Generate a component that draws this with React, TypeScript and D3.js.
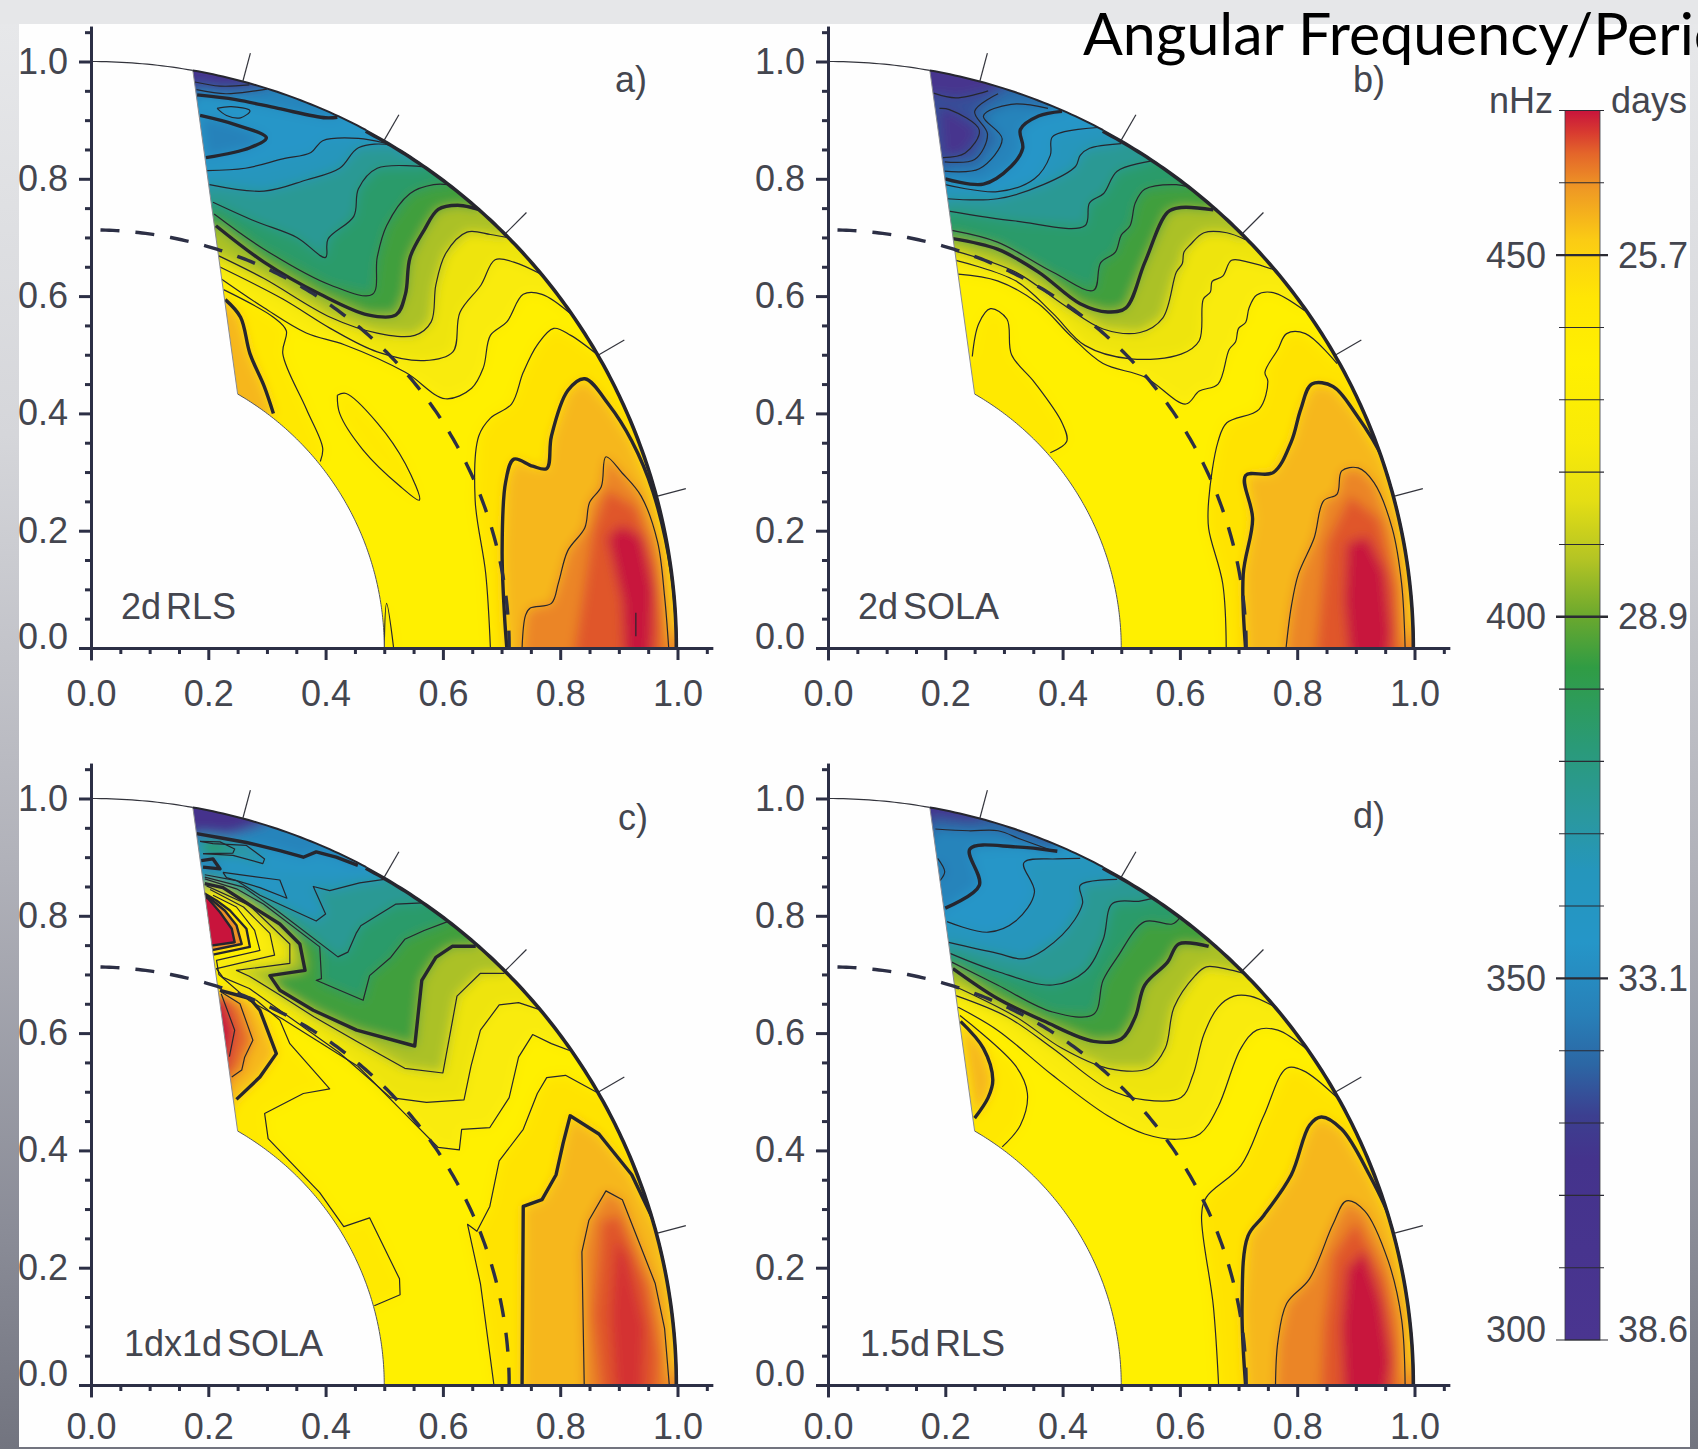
import React, { useEffect, useRef } from 'react'
import * as d3 from 'd3'

type Pt = [number, number]
// nHz of the line (null = colour only), nHz of the colour (null = line only), how the region closes, points
type Contour = [number | null, number | null, string, Pt[]]

const MAJOR_TICKS = [0, 0.2, 0.4, 0.6, 0.8, 1.0]
const MINOR_TICKS = d3.range(0, 22).map(i => i * 0.05).filter(v => Math.round(v * 100) % 20 !== 0)
const LATITUDE_MARKS = [15, 30, 45, 60, 75]
const TACHOCLINE_R = 0.713
const BAR_TICKS = d3.range(300, 471, 10)
const BAR_LABELS: [number, string][] = [[450, '25.7'], [400, '28.9'], [350, '33.1'], [300, '38.6']]

const RAMP_NHZ = [300, 325, 331, 338, 345, 355, 365, 372, 382, 393, 400, 408, 416, 424, 435, 444, 452, 459, 464, 467, 471]
const RAMP_COLOR = ['#4a3590', '#44338c', '#3c3f90', '#2c66a4', '#2880b8', '#2596c8', '#2596bc', '#2a98a0', '#2a9a78', '#309c44', '#6aa82e', '#b4c424', '#e4de14', '#f8ea08', '#fff000', '#ffe604', '#fbcc14', '#ef9a24', '#e4662a', '#d83a30', '#c8143c']

const panelA: Contour[] = [
  [440, 445, 'eq', [[.681, 0], [.673, .127], [.655, .252], [.661, .361], [.681, .392], [.717, .416], [.737, .47], [.761, .517], [.789, .545], [.818, .533], [.866, .498]]],
  [440, 442, 'in', [[.226, .611], [.311, .564], [.333, .541], [.327, .502], [.367, .408], [.395, .341], [.391, .318]]],
  [440, 442, 'self', [[.5, 0], [.504, .076], [.516, 0]]],
  [440, 441, 'self', [[.42, .431], [.435, .434], [.488, .384], [.536, .314], [.56, .252], [.528, .275], [.464, .3375], [.424, .4], [.42, .431]]],
  [450, 455, 'eq', [[.709, 0], [.705, .056], [.701, .166], [.707, .283], [.721, .322], [.753, .31], [.777, .306], [.785, .361], [.813, .439], [.842, .459], [.882, .416], [.922, .353], [.958, .267], [.99, .127], [1, 0]]],
  [450, 455, 'in', [[.229, .594], [.255, .564], [.271, .502], [.295, .447], [.311, .4]]],
  [460, 461, 'eq', [[.735, 0], [.741, .056], [.749, .068], [.785, .076], [.797, .111], [.813, .166], [.842, .205], [.85, .248], [.87, .275], [.878, .326], [.906, .298], [.938, .259], [.966, .181], [.978, .0875], [.985, 0]]],
  [null, 465, 'self', [[.855, .2], [.88, .27], [.93, .24], [.965, .14], [.975, .03], [.97, -.03], [.82, -.03], [.84, .1]]],
  [null, 471, 'self', [[.88, .19], [.905, .21], [.94, .19], [.96, .1], [.955, -.03], [.91, -.03], [.905, .08]]],
  [470, null, 'none', [[.929, .06], [.929, .02]]],
  [430, 425, 'top', [[.221, .63], [.295, .58], [.367, .537], [.432, .517], [.536, .47], [.604, .425], [.649, .443], [.669, .478], [.681, .533], [.709, .556], [.737, .603], [.769, .603], [.82, .568]]],
  [420, 420, 'top', [[.219, .65], [.327, .595], [.408, .545], [.488, .505], [.568, .49], [.617, .505], [.629, .572], [.665, .619], [.689, .662], [.721, .658], [.77, .636]]],
  [410, 407, 'top', [[.215, .67], [.295, .63], [.408, .564], [.488, .537], [.552, .533], [.58, .556], [.588, .619], [.605, .673], [.641, .709], [.681, .705], [.709, .7]]],
  [400, 395, 'top', [[.213, .72], [.295, .658], [.391, .603], [.472, .568], [.52, .568], [.536, .603], [.544, .666], [.568, .7125], [.592, .748], [.625, .755], [.661, .748]]],
  [390, 385, 'top', [[.21, .74], [.295, .68], [.408, .619], [.48, .603], [.488, .666], [.504, .72], [.544, .775], [.584, .79], [.61, .79]]],
  [380, 375, 'top', [[.208, .76], [.279, .728], [.351, .7], [.4, .666], [.404, .697], [.448, .736], [.456, .783], [.488, .818], [.572, .82]]],
  [370, 365, 'top', [[.202, .79], [.295, .779], [.367, .798], [.424, .818], [.456, .853], [.512, .857], [.552, .834]]],
  [360, 355, 'top', [[.198, .814], [.263, .818], [.327, .834], [.375, .845], [.395, .865], [.456, .869], [.5, .861]]],
  [350, 346, 'self', [[.186, .908], [.247, .892], [.299, .87], [.271, .853], [.196, .836]]],
  [350, 347, 'top', [[.181, .943], [.247, .935], [.319, .92], [.4, .904], [.42, .905]]],
  [360, null, 'none', [[.215, .92], [.239, .923], [.271, .916], [.255, .904], [.231, .908], [.215, .92]]],
  [340, 336, 'top', [[.18, .952], [.23, .945], [.28, .95], [.3, .953]]],
  [330, 320, 'top', [[.177, .965], [.22, .958], [.27, .96]]],
]

const panelB: Contour[] = [
  [440, 445, 'eq', [[.679, 0], [.673, .11], [.649, .204], [.649, .251], [.665, .352], [.68, .384], [.735, .407], [.75, .455], [.745, .47], [.767, .509], [.782, .536], [.814, .536], [.868, .485]]],
  [440, 441, 'in', [[.246, .497], [.257, .553], [.277, .5785], [.305, .561], [.313, .5], [.352, .453], [.399, .384], [.407, .352], [.379, .333]]],
  [450, 455, 'eq', [[.712, 0], [.708, .126], [.724, .22], [.712, .294], [.759, .299], [.79, .352], [.806, .407], [.825, .45], [.861, .446], [.9, .399], [.947, .321], [.978, .22], [.998, .087], [1, 0]]],
  [460, 461, 'eq', [[.781, 0], [.79, .071], [.802, .126], [.829, .188], [.845, .251], [.868, .2625], [.876, .302], [.904, .307], [.931, .282], [.962, .204], [.978, .11], [.984, 0]]],
  [null, 465, 'self', [[.85, .18], [.89, .26], [.94, .22], [.97, .1], [.975, -.03], [.83, -.03], [.84, .08]]],
  [null, 471, 'self', [[.885, .18], [.92, .19], [.95, .13], [.96, .03], [.955, -.03], [.89, -.03], [.88, .08]]],
  [430, 425, 'top', [[.222, .6375], [.289, .626], [.359, .587], [.414, .532], [.469, .485], [.54, .462], [.61, .416], [.633, .438], [.665, .45], [.684, .509], [.695, .522], [.7, .545], [.712, .555], [.718, .58], [.731, .602], [.759, .606], [.813, .575]]],
  [420, 420, 'top', [[.218, .661], [.32, .626], [.383, .571], [.438, .516], [.516, .493], [.602, .501], [.633, .524], [.64, .595], [.652, .607], [.655, .625], [.673, .634], [.688, .661], [.72, .657], [.76, .645]]],
  [410, 407, 'top', [[.216, .677], [.32, .641], [.399, .587], [.469, .544], [.532, .538], [.571, .563], [.594, .641], [.604, .655], [.607, .675], [.618, .688], [.641, .708], [.68, .708], [.712, .696]]],
  [400, 395, 'top', [[.213, .698], [.289, .68], [.359, .641], [.43, .587], [.477, .573], [.508, .58], [.54, .657], [.579, .743], [.602, .751], [.657, .747]]],
  [390, 385, 'top', [[.211, .712], [.289, .692], [.383, .641], [.453, .61], [.465, .657], [.49, .675], [.5, .704], [.515, .72], [.524, .759], [.54, .782], [.594, .79], [.614, .786]]],
  [380, 375, 'top', [[.206, .745], [.32, .728], [.438, .72], [.446, .759], [.47, .775], [.493, .813], [.55, .83]]],
  [370, 365, 'top', [[.203, .766], [.289, .766], [.367, .79], [.422, .821], [.43, .84], [.446, .852], [.5, .86]]],
  [360, 355, 'top', [[.2, .79], [.289, .778], [.352, .8], [.379, .84], [.383, .872], [.461, .8875]]],
  [350, 347, 'top', [[.2, .8], [.265, .791], [.312, .821], [.332, .852], [.328, .884], [.359, .907], [.399, .915]]],
  [340, 340, 'top', [[.199, .813], [.258, .817], [.297, .868], [.265, .907], [.312, .927], [.375, .92]]],
  [330, 334, 'top', [[.199, .829], [.25, .833], [.272, .876], [.25, .915], [.29, .945]]],
  [320, 315, 'self', [[.19, .92], [.207, .918], [.258, .883], [.234, .844], [.196, .836]]],
  [320, 315, 'top', [[.18, .946], [.218, .938], [.273, .95]]],
]

const panelC: Contour[] = [
  [440, 445, 'eq', [[.687, 0], [.664, .173], [.642, .274], [.658, .262], [.68, .3045], [.696, .382], [.737, .436], [.761, .497], [.777, .524], [.809, .528], [.866, .497]]],
  [440, 441, 'in', [[.222, .672], [.282, .656], [.322, .622], [.339, .582], [.407, .505], [.362, .497], [.296, .463], [.302, .42], [.39, .328], [.431, .27], [.475, .285], [.526, .181], [.527, .154], [.483, .135]]],
  [450, 455, 'eq', [[.735, 0], [.737, .3045], [.769, .316], [.793, .3585], [.805, .4125], [.817, .459], [.866, .428], [.922, .3585], [.97, .258], [.994, .135], [1, 0]]],
  [450, 455, 'in', [[.22, .673], [.271, .659], [.288, .639], [.316, .565], [.288, .525], [.248, .487]]],
  [460, 461, 'eq', [[.841, 0], [.837, .227], [.849, .281], [.878, .331], [.906, .316], [.962, .173], [.978, .096], [.986, 0]]],
  [460, 464, 'in', [[.222, .67], [.254, .65], [.276, .588], [.262, .559], [.257, .537], [.24, .525]]],
  [470, 471, 'in', [[.222, .667], [.245, .605], [.236, .56]]],
  [null, 465, 'self', [[.87, .28], [.9, .29], [.95, .17], [.97, .05], [.965, -.03], [.87, -.03], [.855, .12]]],
  [null, 468, 'self', [[.895, .25], [.915, .22], [.945, .1], [.94, -.03], [.895, -.03], [.885, .12]]],
  [430, 425, 'top', [[.208, .835], [.248, .815], [.279, .775], [.288, .741], [.214, .724], [.218, .7], [.27, .655], [.326, .6245], [.455, .5435], [.535, .4626], [.592, .405], [.628, .401], [.632, .436], [.68, .439], [.713, .49], [.729, .559], [.753, .5975], [.785, .582], [.825, .567]]],
  [420, 420, 'top', [[.203, .845], [.26, .815], [.305, .77], [.313, .733], [.214, .71], [.225, .695], [.27, .676], [.326, .636], [.423, .567], [.511, .49], [.572, .482], [.636, .486], [.648, .544], [.664, .605], [.696, .648], [.729, .652], [.765, .64]]],
  [410, 407, 'top', [[.197, .851], [.27, .818], [.339, .752], [.339, .719], [.248, .707], [.27, .697], [.322, .665], [.38, .628], [.455, .585], [.535, .54], [.6, .532], [.612, .5975], [.624, .663], [.664, .702], [.705, .702]]],
  [400, 395, 'top', [[.194, .855], [.225, .848], [.276, .815], [.322, .786], [.356, .752], [.365, .707], [.305, .698], [.322, .673], [.379, .639], [.453, .605], [.552, .578], [.564, .69], [.588, .729], [.616, .748], [.656, .748]]],
  [390, 385, 'top', [[.194, .863], [.248, .846], [.294, .82], [.39, .747], [.393, .693], [.384, .69], [.464, .656], [.475, .698], [.511, .729], [.535, .76], [.568, .775], [.608, .79]]],
  [380, 375, 'top', [[.194, .866], [.26, .849], [.316, .81], [.421, .73], [.438, .738], [.452, .77], [.46, .783], [.52, .82], [.565, .822]]],
  [370, 363, 'top', [[.194, .87], [.248, .86], [.288, .835], [.384, .791], [.4, .803], [.387, .832], [.379, .85], [.407, .843], [.458, .856], [.5, .862]]],
  [360, 357, 'self', [[.225, .874], [.322, .861], [.334, .83], [.288, .848], [.231, .865], [.225, .874]]],
  [null, 357, 'top', [[.19, .885], [.35, .87], [.44, .87], [.48, .87]]],
  [350, 347, 'top', [[.18, .94], [.22, .933], [.265, .925], [.322, .911], [.362, .8999], [.384, .909], [.418, .9], [.455, .886]]],
  [null, 322, 'top', [[.18, .942], [.235, .938], [.26, .945], [.29, .955]]],
  [380, 373, 'self', [[.186, .927], [.208, .923], [.265, .92], [.296, .897], [.293, .889], [.242, .903], [.191, .906]]],
  [390, 392, 'self', [[.186, .927], [.22, .926], [.245, .914], [.242, .907], [.191, .906]]],
  [350, 340, 'self', [[.188, .894], [.208, .897], [.22, .88], [.191, .883]]],
  [440, 447, 'crisp', [[.19, .84], [.214, .826], [.237, .809], [.265, .778], [.271, .747], [.19, .73]]],
  [450, 460, 'crisp', [[.19, .84], [.2, .832], [.228, .809], [.248, .784], [.257, .752], [.19, .738]]],
  [460, 471, 'crisp', [[.19, .835], [.2, .829], [.22, .806], [.24, .778], [.245, .755], [.19, .747]]],
]

const panelD: Contour[] = [
  [440, 445, 'eq', [[.666, 0], [.657, .135], [.637, .289], [.645, .32], [.704, .374], [.743, .459], [.782, .54], [.81, .536], [.868, .49]]],
  [440, 442, 'in', [[.225, .63], [.32, .544], [.34, .497], [.328, .443], [.297, .406]]],
  [450, 455, 'self', [[.226, .62], [.265, .574], [.281, .52], [.273, .49], [.25, .455]]],
  [450, 455, 'eq', [[.712, 0], [.706, .135], [.716, .254], [.743, .289], [.79, .3585], [.821, .443], [.841, .457], [.876, .436], [.923, .3585], [.962, .274], [.994, .135], [1, 0]]],
  [460, 461, 'eq', [[.763, 0], [.767, .073], [.782, .139], [.821, .181], [.861, .274], [.884, .314], [.915, .297], [.955, .212], [.978, .112], [.984, 0]]],
  [null, 465, 'self', [[.86, .22], [.9, .28], [.95, .18], [.97, .07], [.97, -.03], [.84, -.03], [.845, .1]]],
  [null, 471, 'self', [[.885, .2], [.915, .23], [.945, .14], [.96, .04], [.95, -.03], [.88, -.03], [.875, .1]]],
  [430, 425, 'top', [[.222, .644], [.289, .605], [.383, .528], [.477, .459], [.54, .428], [.594, .419], [.634, .428], [.665, .474], [.704, .574], [.731, .605], [.767, .605], [.818, .571]]],
  [420, 420, 'top', [[.218, .664], [.305, .628], [.383, .574], [.477, .505], [.54, .486], [.602, .49], [.622, .528], [.641, .598], [.665, .644], [.692, .663], [.72, .663], [.765, .643]]],
  [410, 407, 'top', [[.216, .68], [.32, .628], [.399, .574], [.477, .54], [.547, .54], [.575, .574], [.59, .644], [.626, .698], [.645, .713], [.68, .709], [.708, .702]]],
  [400, 395, 'top', [[.213, .71], [.289, .659], [.367, .621], [.453, .586], [.5, .59], [.524, .628], [.54, .682], [.579, .721], [.598, .752], [.649, .748]]],
  [390, 385, 'top', [[.211, .721], [.289, .682], [.383, .636], [.453, .632], [.469, .69], [.493, .729], [.54, .79], [.587, .786], [.6, .797]]],
  [380, 375, 'top', [[.208, .736], [.289, .705], [.383, .682], [.438, .705], [.469, .759], [.485, .821], [.532, .825], [.555, .83]]],
  [370, 365, 'top', [[.204, .755], [.289, .736], [.336, .727], [.399, .767], [.434, .821], [.43, .852], [.493, .862]]],
  [360, 355, 'top', [[.203, .79], [.273, .772], [.32, .791], [.352, .84], [.334, .8905], [.391, .897], [.43, .898]]],
  [350, 347, 'top', [[.2, .813], [.258, .852], [.242, .914], [.32, .9175], [.391, .91]]],
  [340, 338, 'self', [[.191, .86], [.199, .875], [.187, .898]]],
  [340, 337, 'top', [[.183, .948], [.24, .945], [.29, .945], [.33, .93], [.38, .912]]],
  [null, 320, 'top', [[.177, .97], [.22, .965], [.25, .962]]],
]

const PANELS = [
  { contours: panelA, x0: 91, y0: 648, pad: 20, letter: 'a)', letterX: 631, letterY: 79, label: '2d RLS', labelX: 121, labelY: 606, curve: d3.curveCatmullRom },
  { contours: panelB, x0: 828, y0: 648, pad: 20, letter: 'b)', letterX: 1369, letterY: 79, label: '2d SOLA', labelX: 858, labelY: 606, curve: d3.curveCatmullRom },
  { contours: panelC, x0: 91, y0: 1385, pad: 16, letter: 'c)', letterX: 634, letterY: 817, label: '1dx1d SOLA', labelX: 124, labelY: 1343, curve: d3.curveLinear },
  { contours: panelD, x0: 828, y0: 1385, pad: 16, letter: 'd)', letterX: 1369, letterY: 815, label: '1.5d RLS', labelX: 860, labelY: 1343, curve: d3.curveCatmullRom },
]

const UNIT = 586.5
const INK = '#2c2f45'
const TEXT = '#44464f'
const SANS = '"Liberation Sans", sans-serif'

const nhzColor = d3.scaleLinear<string>().domain(RAMP_NHZ).range(RAMP_COLOR).clamp(true)
const rad = (lat: number) => (lat * Math.PI) / 180

function closeRegion(kind: string, pts: Pt[]): Pt[] {
  if (kind === 'eq') return [...pts, [1.3, 0.6], [1.3, -0.1], [pts[0][0], -0.1]]
  if (kind === 'top') return [...pts, [0.8, 1.25], [0, 1.25], [0, 0.6]]
  if (kind === 'in') return [...pts, [0.1, 0.2], [0.1, 0.6]]
  return pts
}

function drawPanel(svg: any, panel: (typeof PANELS)[number], idx: number) {
  const { x0, y0 } = panel
  const x = d3.scaleLinear().domain([-0.02, 1.06]).range([x0 - 0.02 * UNIT, x0 + 1.06 * UNIT])
  const y = d3.scaleLinear().domain([-0.02, 1.06]).range([y0 + 0.02 * UNIT, y0 - 1.06 * UNIT])
  const g = svg.append('g')

  const straight = d3.line<Pt>().x(d => x(d[0])).y(d => y(d[1]))
  const smooth = d3.line<Pt>().x(d => x(d[0])).y(d => y(d[1])).curve(panel.curve as any)
  const polar = (r: number, lat: number): Pt => [r * Math.cos(rad(lat)), r * Math.sin(rad(lat))]
  const arc = (r: number, from: number, to: number) => d3.range(from, to, 0.5).concat(to).map(l => polar(r, l))

  // wedge: outer rim up to 80 deg, straight left edge, inner arc at r = 0.5
  const wedge: Pt[] = [...arc(1, 0, 80), ...arc(0.5, 0, 60).reverse()]
  const clipId = 'wedge-' + idx
  g.append('clipPath').attr('id', clipId).append('path').attr('d', straight(wedge) + 'Z')

  // colour regions, painted in order and blurred so the bands melt together
  const clipped = g.append('g').attr('clip-path', `url(#${clipId})`)
  const fills = clipped.append('g').attr('filter', 'url(#soften)')
  const crisp = clipped.append('g')
  fills.append('path')
    .attr('d', straight([[-0.1, -0.1], [1.2, -0.1], [1.2, 1.2], [-0.1, 1.2]]) + 'Z')
    .attr('fill', nhzColor(435))
  panel.contours.filter(c => c[1] !== null).forEach(c => {
    const layer = c[2] === 'crisp' ? crisp : fills
    layer.append('path')
      .attr('d', straight(closeRegion(c[2], c[3])) + 'Z')
      .attr('fill', nhzColor(c[1] as number))
  })

  // contour lines, every 50 nHz heavy
  const lines = g.append('g').attr('clip-path', `url(#${clipId})`).attr('fill', 'none').attr('stroke-linejoin', 'round')
  panel.contours.filter(c => c[0] !== null).forEach(c => {
    const heavy = (c[0] as number) % 50 === 0
    lines.append('path')
      .attr('d', smooth(c[3]))
      .attr('stroke', '#26262e')
      .attr('stroke-width', c[2] === 'crisp' ? 2.4 : heavy ? 3.4 : 1.2)
  })

  // wedge outline
  g.append('path').attr('d', straight(arc(0.5, 0, 60))).attr('fill', 'none').attr('stroke', '#55565e').attr('stroke-width', 1)
  g.append('path').attr('d', straight([polar(1, 80), polar(0.5, 60)])).attr('fill', 'none').attr('stroke', '#8a8b92').attr('stroke-width', 1)
  g.append('path').attr('d', straight(arc(1, 80, 90))).attr('fill', 'none').attr('stroke', '#33343c').attr('stroke-width', 1.2)
  g.append('path').attr('d', straight(arc(1, 62, 80))).attr('fill', 'none').attr('stroke', '#26262e').attr('stroke-width', 2)
  g.append('path').attr('d', straight(arc(0.998, 0, 62))).attr('fill', 'none').attr('stroke', '#26262e').attr('stroke-width', 3.6)

  // latitude marks outside the rim
  LATITUDE_MARKS.forEach(lat => {
    g.append('path').attr('d', straight([polar(1, lat), polar(1.05, lat)])).attr('stroke', '#33343c').attr('stroke-width', 1.2)
  })

  // base of the convection zone
  g.append('path')
    .attr('d', straight(arc(TACHOCLINE_R, 0, 88.7).reverse()))
    .attr('fill', 'none')
    .attr('stroke', INK)
    .attr('stroke-width', 3.4)
    .attr('stroke-dasharray', '19 16')

  // axes
  const styleAxis = (sel: any) => {
    sel.selectAll('path,line').attr('stroke', INK).attr('stroke-width', 3)
    sel.selectAll('text').attr('fill', TEXT).attr('font-size', 36).attr('font-family', SANS)
  }
  const fmt = (d: any) => (+d).toFixed(1)
  g.append('g').attr('transform', `translate(${x0},0)`)
    .call(d3.axisLeft(y).tickValues(MINOR_TICKS).tickSizeInner(6).tickSizeOuter(0).tickFormat(() => ''))
    .call(styleAxis)
  const yAxis = g.append('g').attr('transform', `translate(${x0},0)`)
    .call(d3.axisLeft(y).tickValues(MAJOR_TICKS).tickSizeInner(12).tickSizeOuter(0).tickPadding(11).tickFormat(fmt))
    .call(styleAxis)
  yAxis.selectAll('text').filter((d: any) => d === 0).attr('transform', 'translate(0,-11)')
  g.append('g').attr('transform', `translate(0,${y0})`)
    .call(d3.axisBottom(x).tickValues(MINOR_TICKS).tickSizeInner(6).tickSizeOuter(0).tickFormat(() => ''))
    .call(styleAxis)
  g.append('g').attr('transform', `translate(0,${y0})`)
    .call(d3.axisBottom(x).tickValues(MAJOR_TICKS).tickSizeInner(12).tickSizeOuter(0).tickPadding(panel.pad).tickFormat(fmt))
    .call(styleAxis)

  const label = (t: string, px: number, py: number) =>
    g.append('text').attr('x', px).attr('y', py).attr('dominant-baseline', 'central')
      .attr('font-family', SANS).attr('font-size', 36).attr('fill', TEXT).attr('word-spacing', -5).text(t)
  label(panel.letter, panel.letterX - 16, panel.letterY)
  label(panel.label, panel.labelX, panel.labelY)
}

function drawColorBar(svg: any) {
  const barY = d3.scaleLinear().domain([300, 470]).range([1340, 110.5])
  const grad = svg.select('defs').append('linearGradient').attr('id', 'ramp').attr('x1', 0).attr('x2', 0).attr('y1', 1).attr('y2', 0)
  RAMP_NHZ.forEach((v, i) => {
    grad.append('stop').attr('offset', (v - 300) / 170 > 1 ? 1 : (v - 300) / 170).attr('stop-color', RAMP_COLOR[i])
  })
  const g = svg.append('g')
  g.append('rect').attr('x', 1565).attr('width', 35).attr('y', barY(470)).attr('height', barY(300) - barY(470))
    .attr('fill', 'url(#ramp)').attr('stroke', '#3a3c44').attr('stroke-width', 0.8)
  g.selectAll('line').data(BAR_TICKS).join('line')
    .attr('x1', (d: number) => (d === 300 || (d % 50 === 0 && d < 470) ? 1556 : 1559))
    .attr('x2', (d: number) => (d === 300 || (d % 50 === 0 && d < 470) ? 1608 : 1604))
    .attr('y1', (d: number) => barY(d))
    .attr('y2', (d: number) => barY(d))
    .attr('stroke', '#2b2b33')
    .attr('stroke-width', (d: number) => (d % 50 === 0 && d > 300 ? 2.4 : 1.1))
  const text = (t: string, px: number, py: number, anchor: string) =>
    g.append('text').attr('x', px).attr('y', py).attr('text-anchor', anchor).attr('dominant-baseline', 'central')
      .attr('font-family', SANS).attr('font-size', 36).attr('fill', TEXT).text(t)
  text('nHz', 1553, 100, 'end')
  text('days', 1611, 100, 'start')
  BAR_LABELS.forEach(([v, days]) => {
    text(String(v), 1546, barY(v) - (v === 300 ? 11 : 0), 'end')
    text(days, 1618, barY(v) - (v === 300 ? 11 : 0), 'start')
  })
}

export default function App() {
  const ref = useRef<SVGSVGElement | null>(null)

  useEffect(() => {
    const svg = d3.select(ref.current)
    svg.selectAll('*').remove()

    // slide background behind the scanned figure
    const defs = svg.append('defs')
    defs.append('filter').attr('id', 'soften').attr('x', '-5%').attr('y', '-5%').attr('width', '110%').attr('height', '110%')
      .append('feGaussianBlur').attr('stdDeviation', 6)
    const frame = defs.append('linearGradient').attr('id', 'frame').attr('x1', 0).attr('x2', 0).attr('y1', 0).attr('y2', 1)
    ;[[0, '#e8e9eb'], [0.3, '#d5d6da'], [0.6, '#b0b1b9'], [0.85, '#8a8c97'], [1, '#72747f']].forEach(([o, c]) => {
      frame.append('stop').attr('offset', o as number).attr('stop-color', c as string)
    })
    svg.append('rect').attr('width', 1698).attr('height', 1449).attr('fill', 'url(#frame)')
    svg.append('rect').attr('width', 1698).attr('height', 24).attr('fill', '#e6e7e9')
    svg.append('rect').attr('x', 19).attr('y', 24).attr('width', 1671).attr('height', 1423).attr('fill', '#fefefe')

    PANELS.forEach((p, i) => drawPanel(svg, p, i))
    drawColorBar(svg)

    svg.append('text').attr('x', 1083).attr('y', 55)
      .attr('font-family', 'Lato, sans-serif').attr('font-size', 59).attr('fill', '#000')
      .text('Angular Frequency/Period')
  }, [])

  return <svg ref={ref} width={1698} height={1449} style={{ position: 'absolute', left: 0, top: 0, display: 'block' }} />
}
